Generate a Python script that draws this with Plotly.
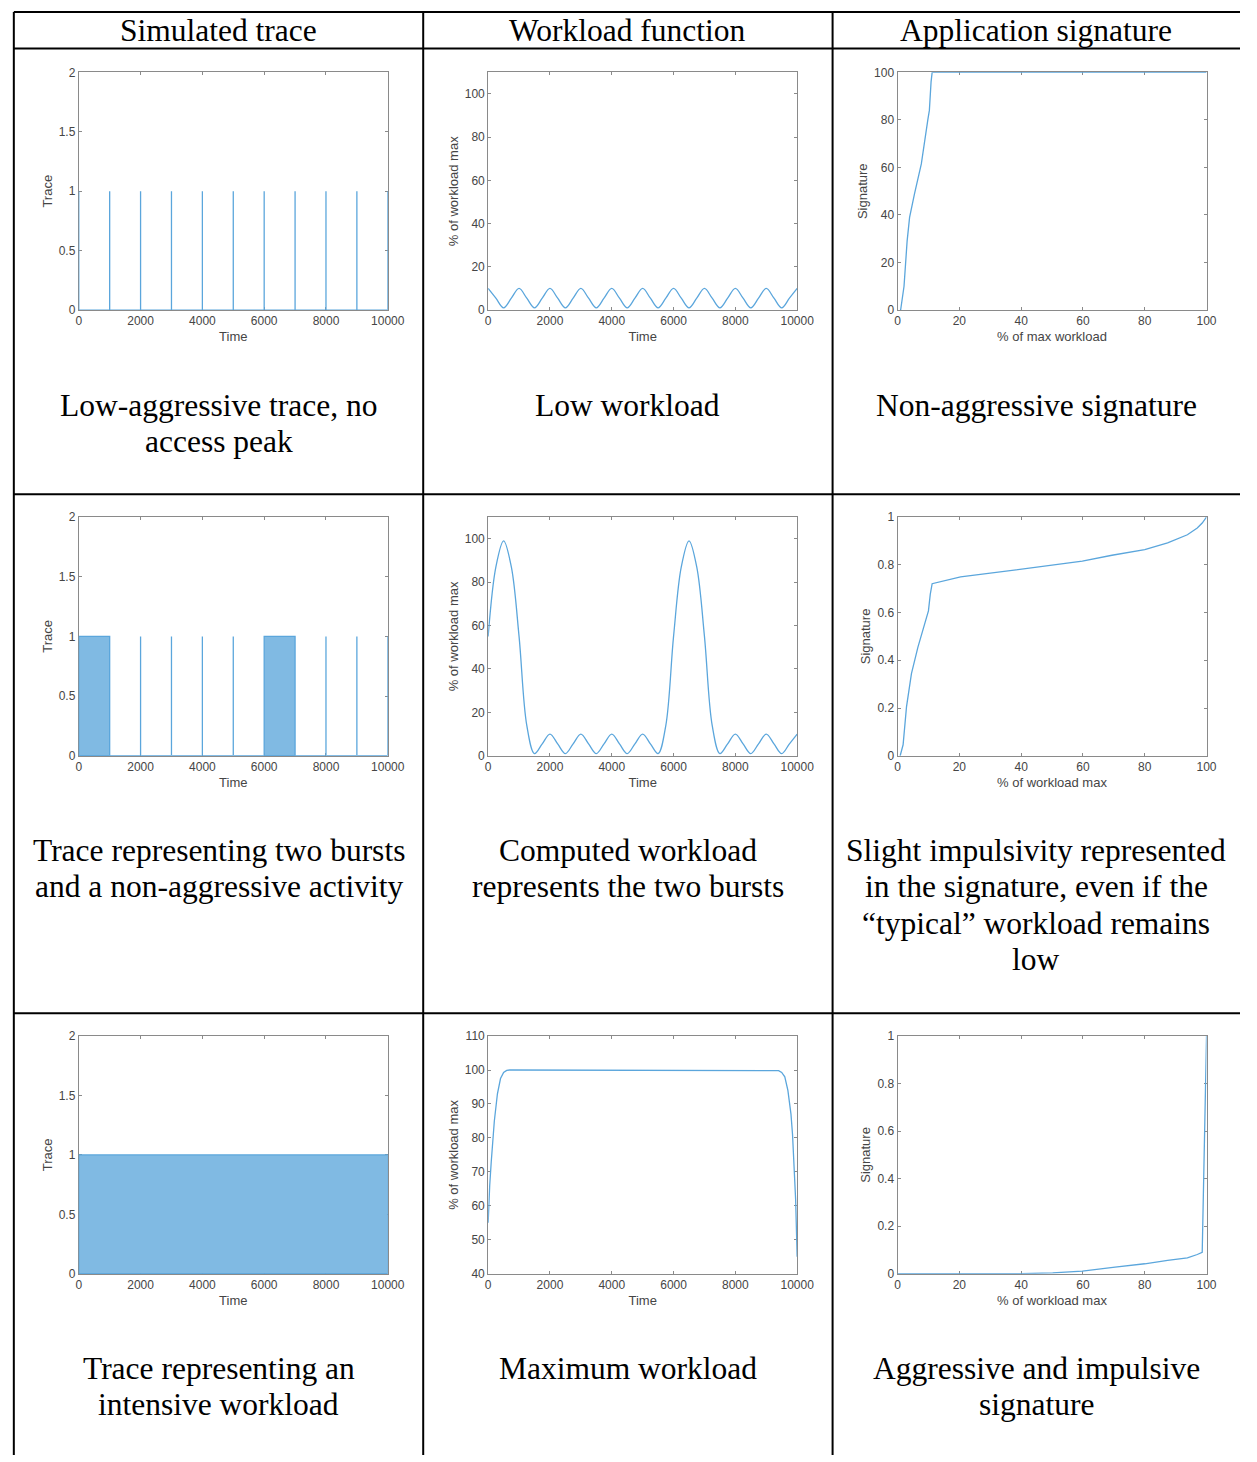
import plotly.graph_objects as go

# ---------------- data ----------------
col_headers = ["Simulated trace", "Workload function", "Application signature"]

captions = [
    [["Low-aggressive trace, no", "access peak"], ["Low workload"], ["Non-aggressive signature"]],
    [["Trace representing two bursts", "and a non-aggressive activity"],
     ["Computed workload", "represents the two bursts"],
     ["Slight impulsivity represented", "in the signature, even if the",
      "\u201ctypical\u201d workload remains", "low"]],
    [["Trace representing an", "intensive workload"], ["Maximum workload"],
     ["Aggressive and impulsive", "signature"]],
]

trace_level = 1
spikes_low = [0, 1000, 2000, 3000, 4000, 5000, 6000, 7000, 8000, 9000, 10000]
bursts_low = []
spikes_two = [2000, 3000, 4000, 5000, 8000, 9000, 10000]
bursts_two = [[0, 1000], [6000, 7000]]
spikes_max = []
bursts_max = [[0, 10000]]

wl_time = [0, 250, 500, 750, 1000, 1250, 1500, 1750, 2000, 2250, 2500, 2750, 3000, 3250,
           3500, 3750, 4000, 4250, 4500, 4750, 5000, 5250, 5500, 5750, 6000, 6250, 6500,
           6750, 7000, 7250, 7500, 7750, 8000, 8250, 8500, 8750, 9000, 9250, 9500, 9750, 10000]
wl_low = [10, 5.5, 1, 5.5, 10, 5.5, 1, 5.5, 10, 5.5, 1, 5.5, 10, 5.5, 1, 5.5, 10, 5.5, 1, 5.5,
          10, 5.5, 1, 5.5, 10, 5.5, 1, 5.5, 10, 5.5, 1, 5.5, 10, 5.5, 1, 5.5, 10, 5.5, 1, 5.5, 10]
wl_two = [55, 87, 99, 87, 55, 14, 1, 5.5, 10, 5.5, 1, 5.5, 10, 5.5, 1, 5.5, 10, 5.5, 1, 5.5,
          10, 5.5, 1, 14, 55, 87, 99, 87, 55, 14, 1, 5.5, 10, 5.5, 1, 5.5, 10, 5.5, 1, 5.5, 10]
wl_max_time = [0, 25, 50, 100, 150, 200, 300, 400, 500, 600, 700, 9300, 9400, 9500, 9600,
               9700, 9800, 9850, 9900, 9950, 10000]
wl_max = [55, 61, 66, 73, 79, 85, 93, 97.5, 99.3, 99.9, 100, 100, 99.8, 99.3, 98, 94, 87,
          81, 73, 62, 45]

sig_low_x = [1.0, 2.1, 3.1, 3.9, 5.5, 7.7, 9.8, 10.3, 10.85, 11.2, 100]
sig_low_y = [0, 10, 29, 39, 49, 61.5, 80, 84, 96, 100, 100]
sig_two_x = [0.85, 1.8, 2.9, 4.5, 6.6, 8.7, 10, 10.6, 11.2, 20.4, 40.1, 59.8, 69.4, 80, 87.4,
             93.8, 97, 98.6, 100]
sig_two_y = [0, 0.046, 0.205, 0.344, 0.455, 0.552, 0.607, 0.677, 0.721, 0.749, 0.781, 0.815,
             0.840, 0.864, 0.892, 0.926, 0.954, 0.975, 1.0]
sig_max_x = [0, 40, 50.2, 59.8, 70.4, 80, 87.4, 93.8, 97, 98.6, 100]
sig_max_y = [0, 0, 0.004, 0.011, 0.028, 0.042, 0.056, 0.067, 0.081, 0.09, 1.0]

time_ticks = [0, 2000, 4000, 6000, 8000, 10000]
time_ticklabels = ["0", "2000", "4000", "6000", "8000", "10000"]
pct_ticks = [0, 20, 40, 60, 80, 100]
trace_ticks = [0, 0.5, 1, 1.5, 2]
trace_ticklabels = ["0", "0.5", "1", "1.5", "2"]
wl_ticks = [0, 20, 40, 60, 80, 100]
wl_max_ticks = [40, 50, 60, 70, 80, 90, 100, 110]
sig_ticks = [0, 0.2, 0.4, 0.6, 0.8, 1]
sig_ticklabels = ["0", "0.2", "0.4", "0.6", "0.8", "1"]

# ---------------- layout helpers ----------------
W, H = 1257, 1462
def px(x):
    return x / W
def py(y):
    return 1 - y / H

LINE = "#5ba6dc"
FILL = "#80bae3"
AXC = "#8a8a8a"
TXT = "#454545"
SANS = "Liberation Sans, Arial, sans-serif"
SERIF = "Liberation Serif, Times New Roman, serif"

col_x = [(77, 391), (493, 807), (909, 1223)]
row_y = [(66, 306), (515, 756), (1039, 1279)]

fig = go.Figure()

def add_trace_panel(idx, spikes, bursts):
    for a, b in bursts:
        fig.add_trace(go.Scatter(x=[a, a, b, b, a], y=[0, trace_level, trace_level, 0, 0],
                                 mode="lines", fill="toself", fillcolor=FILL,
                                 line=dict(color=LINE, width=1.3),
                                 xaxis=f"x{idx}", yaxis=f"y{idx}", showlegend=False))
    xs, ys = [0], [0]
    for t in sorted(spikes):
        xs += [t, t, t]
        ys += [0, trace_level, 0]
    xs.append(10000); ys.append(0)
    fig.add_trace(go.Scatter(x=xs, y=ys, mode="lines", line=dict(color=LINE, width=1.3),
                             xaxis=f"x{idx}", yaxis=f"y{idx}", showlegend=False))

def add_line(idx, x, y, shape="linear"):
    fig.add_trace(go.Scatter(x=x, y=y, mode="lines",
                             line=dict(color=LINE, width=1.3, shape=shape, smoothing=1.0),
                             xaxis=f"x{idx}", yaxis=f"y{idx}", showlegend=False))

add_trace_panel(1, spikes_low, bursts_low)
add_line(2, wl_time, wl_low, "spline")
add_line(3, sig_low_x, sig_low_y)
add_trace_panel(4, spikes_two, bursts_two)
add_line(5, wl_time, wl_two, "spline")
add_line(6, sig_two_x, sig_two_y)
add_trace_panel(7, spikes_max, bursts_max)
add_line(8, wl_max_time, wl_max)
add_line(9, sig_max_x, sig_max_y)

panel_specs = [
    ([0, 10000], time_ticks, time_ticklabels, "Time", [0, 2], trace_ticks, trace_ticklabels, "Trace"),
    ([0, 10000], time_ticks, time_ticklabels, "Time", [0, 110], wl_ticks, None, "% of workload max"),
    ([0, 100], pct_ticks, None, "% of max workload", [0, 100], pct_ticks, None, "Signature"),
    ([0, 10000], time_ticks, time_ticklabels, "Time", [0, 2], trace_ticks, trace_ticklabels, "Trace"),
    ([0, 10000], time_ticks, time_ticklabels, "Time", [0, 110], wl_ticks, None, "% of workload max"),
    ([0, 100], pct_ticks, None, "% of workload max", [0, 1], sig_ticks, sig_ticklabels, "Signature"),
    ([0, 10000], time_ticks, time_ticklabels, "Time", [0, 2], trace_ticks, trace_ticklabels, "Trace"),
    ([0, 10000], time_ticks, time_ticklabels, "Time", [40, 110], wl_max_ticks, None, "% of workload max"),
    ([0, 100], pct_ticks, None, "% of workload max", [0, 1], sig_ticks, sig_ticklabels, "Signature"),
]

layout = dict(width=W, height=H, margin=dict(l=0, r=0, t=0, b=0, pad=0),
              paper_bgcolor="white", plot_bgcolor="white", showlegend=False)

common = dict(showgrid=False, zeroline=False, showline=True, linecolor=AXC, linewidth=1,
              mirror="ticks", ticks="inside", ticklen=3, tickcolor=AXC, tickwidth=1,
              layer="below traces",
              tickfont=dict(family=SANS, size=12, color=TXT), tickmode="array")

for i, spec in enumerate(panel_specs):
    idx = i + 1
    r, c = divmod(i, 3)
    xr, xt, xtt, xtitle, yr, yt, ytt, ytitle = spec
    x0, x1 = col_x[c]
    y0, y1 = row_y[r]
    xa = dict(common, domain=[px(x0), px(x1)], range=xr, tickvals=xt, anchor=f"y{idx}",
              title=dict(text=xtitle, font=dict(family=SANS, size=13, color=TXT), standoff=4))
    if xtt:
        xa["ticktext"] = xtt
    ya = dict(common, domain=[py(y1), py(y0)], range=yr, tickvals=yt, anchor=f"x{idx}",
              title=dict(text=ytitle, font=dict(family=SANS, size=13, color=TXT), standoff=3))
    if ytt:
        ya["ticktext"] = ytt
    layout[f"xaxis{'' if idx == 1 else idx}"] = xa
    layout[f"yaxis{'' if idx == 1 else idx}"] = ya

fig.update_layout(**layout)

# ---------------- table lines ----------------
shapes = []
def hline(y, x0=11, x1=1257):
    shapes.append(dict(type="line", xref="paper", yref="paper", x0=px(x0), x1=px(x1),
                       y0=py(y), y1=py(y), line=dict(color="black", width=2)))
def vline(x, y0=5, y1=1462):
    shapes.append(dict(type="line", xref="paper", yref="paper", x0=px(x), x1=px(x),
                       y0=py(y0), y1=py(y1), line=dict(color="black", width=2)))
for y in [5, 42, 492, 1016]:
    hline(y)
for x in [11, 427, 843]:
    vline(x)
fig.update_layout(shapes=shapes)

# ---------------- text ----------------
col_cx = [219, 635, 1050]
annotations = []
for c, h in enumerate(col_headers):
    annotations.append(dict(text=h, x=px(col_cx[c]), y=py(24), xref="paper", yref="paper",
                            xanchor="center", yanchor="middle", showarrow=False,
                            font=dict(family=SERIF, size=31.5, color="black")))
caption_y0 = [402, 852, 1375]
line_gap = 36.5
for r in range(3):
    for c in range(3):
        for k, line in enumerate(captions[r][c]):
            annotations.append(dict(text=line, x=px(col_cx[c]), y=py(caption_y0[r] + k * line_gap),
                                    xref="paper", yref="paper", xanchor="center",
                                    yanchor="middle", showarrow=False,
                                    font=dict(family=SERIF, size=31.5, color="black")))
fig.update_layout(annotations=annotations)

fig.write_html("out.html")
